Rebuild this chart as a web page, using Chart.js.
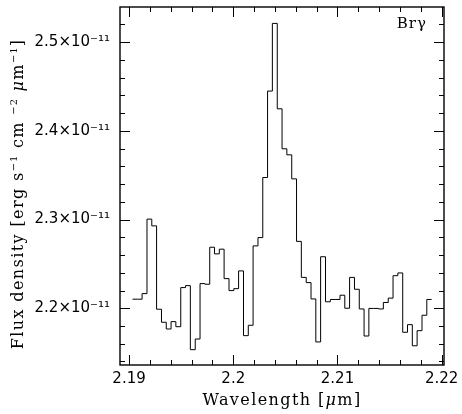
<!DOCTYPE html>
<html>
<head>
<meta charset="utf-8">
<script src="https://cdn.jsdelivr.net/npm/chart.js@4/dist/chart.umd.min.js"></script>
<style>
html,body{margin:0;padding:0;background:#fff;}
canvas{display:block;}
</style>
</head>
<body>
<canvas id="c" width="462" height="414"></canvas>
<script>
// Bin left edges (µm); the last entry is the right edge of the last bin
const wavelengthEdges = [
  2.19033, 2.19079, 2.19125, 2.19172, 2.19218, 2.19264, 2.19311, 2.19357, 2.19403, 2.19449,
  2.19496, 2.19542, 2.19588, 2.19635, 2.19681, 2.19727, 2.19774, 2.19820, 2.19866, 2.19912,
  2.19959, 2.20005, 2.20051, 2.20098, 2.20144, 2.20190, 2.20237, 2.20283, 2.20329, 2.20375,
  2.20422, 2.20468, 2.20514, 2.20561, 2.20607, 2.20653, 2.20700, 2.20746, 2.20792, 2.20838,
  2.20885, 2.20931, 2.20977, 2.21024, 2.21070, 2.21116, 2.21163, 2.21209, 2.21255, 2.21301,
  2.21348, 2.21394, 2.21440, 2.21487, 2.21533, 2.21579, 2.21626, 2.21672, 2.21718, 2.21764,
  2.21811, 2.21857, 2.21903
];
// Flux density in units of 1e-11 erg s^-1 cm^-2 µm^-1 (one per bin)
const fluxE11 = [
  2.2102, 2.2102, 2.2165, 2.3005, 2.2929, 2.1989, 2.1842, 2.1766, 2.1849, 2.1792,
  2.2233, 2.2255, 2.1533, 2.1653, 2.2278, 2.2271, 2.2688, 2.2613, 2.2666, 2.2334,
  2.2199, 2.2221, 2.2421, 2.1691, 2.1808, 2.2703, 2.2797, 2.3474, 2.4449, 2.5212,
  2.4249, 2.3798, 2.3730, 2.3459, 2.2754, 2.2348, 2.2289, 2.2105, 2.1620, 2.2581,
  2.2073, 2.2099, 2.2099, 2.2147, 2.2000, 2.2348, 2.2214, 2.1992, 2.1687, 2.1998,
  2.1998, 2.1992, 2.2065, 2.2114, 2.2367, 2.2398, 2.1729, 2.1815, 2.1577, 2.1747,
  2.1921, 2.2099
];
const xTickValues = [2.19, 2.20, 2.21, 2.22];
const xTickLabels = ['2.19', '2.2', '2.21', '2.22'];
const yTickValues = [2.2, 2.3, 2.4, 2.5];
const yTickLabels = ['2.2×10⁻¹¹', '2.3×10⁻¹¹', '2.4×10⁻¹¹', '2.5×10⁻¹¹'];
const xMinorStep = 0.002;
const yMinorStep = 0.02;
const lineLabel = 'Brγ';
// axis titles as rich-text pieces: [text, style] (n = normal, s = superscript, i = italic)
const xTitle = [['Wavelength [', 'n'], ['μ', 'i'], ['m]', 'n']];
const yTitle = [['Flux density [erg s', 'n'], ['−1', 's'], [' cm ', 'n'], ['−2', 's'], [' ', 'n'],
                ['μ', 'i'], ['m', 'n'], ['−1', 's'], [']', 'n']];

const points = wavelengthEdges.map((w, i) => ({
  x: w,
  y: fluxE11[Math.min(i, fluxE11.length - 1)]
}));

const FONTS = {
  n: { font: '16px "DejaVu Serif"', ls: '1.4px', dy: 0 },
  i: { font: 'italic 16px "DejaVu Serif"', ls: '1.4px', dy: 0 },
  s: { font: '10px "DejaVu Serif"', ls: '1px', dy: -6 }
};

function drawRich(ctx, pieces, cx, baseY, rotation) {
  ctx.save();
  ctx.translate(cx, baseY);
  ctx.rotate(rotation);
  ctx.textBaseline = 'alphabetic';
  ctx.textAlign = 'left';
  let total = 0;
  const widths = pieces.map(([t, s]) => {
    ctx.font = FONTS[s].font; ctx.letterSpacing = FONTS[s].ls;
    const w = ctx.measureText(t).width; total += w; return w;
  });
  let x = -total / 2;
  pieces.forEach(([t, s], k) => {
    ctx.font = FONTS[s].font; ctx.letterSpacing = FONTS[s].ls;
    ctx.fillText(t, x, FONTS[s].dy);
    x += widths[k];
  });
  ctx.restore();
}

const framePlugin = {
  id: 'frame',
  afterDraw(chart) {
    const ctx = chart.ctx;
    const a = chart.chartArea;
    const xs = chart.scales.x, ys = chart.scales.y;
    ctx.save();
    ctx.strokeStyle = '#000';
    ctx.lineWidth = 1.4;
    ctx.strokeRect(a.left, a.top, a.right - a.left, a.bottom - a.top);
    ctx.lineWidth = 1;
    ctx.beginPath();
    const x0 = xTickValues[0] - xMinorStep * 5;
    for (let k = 0; k <= 40; k++) {
      const v = +(x0 + k * xMinorStep).toFixed(4);
      if (v < xs.min || v > xs.max) continue;
      const major = xTickValues.some(t => Math.abs(t - v) < 1e-6);
      const len = major ? 10 : 5;
      const px = Math.round(xs.getPixelForValue(v)) + 0.5;
      ctx.moveTo(px, a.bottom); ctx.lineTo(px, a.bottom - len);
      ctx.moveTo(px, a.top); ctx.lineTo(px, a.top + len);
    }
    const y0 = yTickValues[0] - yMinorStep * 5;
    for (let k = 0; k <= 30; k++) {
      const v = +(y0 + k * yMinorStep).toFixed(4);
      if (v < ys.min || v > ys.max) continue;
      const major = yTickValues.some(t => Math.abs(t - v) < 1e-6);
      const len = major ? 10 : 5;
      const py = Math.round(ys.getPixelForValue(v)) + 0.5;
      ctx.moveTo(a.left, py); ctx.lineTo(a.left + len, py);
      ctx.moveTo(a.right, py); ctx.lineTo(a.right - len, py);
    }
    ctx.stroke();
    ctx.fillStyle = '#000';
    // line label
    ctx.font = '15px "DejaVu Serif"';
    ctx.letterSpacing = '1px';
    ctx.textAlign = 'right';
    ctx.textBaseline = 'middle';
    ctx.fillText(lineLabel, a.right - 17, a.top + 17);
    // axis titles
    drawRich(ctx, xTitle, (a.left + a.right) / 2, a.bottom + 40, 0);
    drawRich(ctx, yTitle, 23, (a.top + a.bottom) / 2 + 8, -Math.PI / 2);
    ctx.restore();
  }
};

new Chart(document.getElementById('c'), {
  type: 'line',
  data: {
    datasets: [{
      data: points,
      stepped: true,
      borderColor: '#000',
      borderWidth: 1,
      pointRadius: 0,
      fill: false,
      tension: 0
    }]
  },
  options: {
    responsive: false,
    animation: false,
    devicePixelRatio: 1,
    layout: { padding: { left: 0, right: 18, top: 7, bottom: 0 } },
    plugins: { legend: { display: false }, tooltip: { enabled: false } },
    scales: {
      x: {
        type: 'linear',
        min: 2.18913,
        max: 2.22022,
        grid: { display: false, drawTicks: false },
        border: { display: false },
        afterFit(s) { s.height = 49; s.paddingLeft = 0; s.paddingRight = 0; },
        afterBuildTicks(s) { s.ticks = xTickValues.map(v => ({ value: v })); },
        ticks: {
          autoSkip: false,
          maxRotation: 0,
          padding: 5,
          color: '#000',
          font: { family: 'DejaVu Sans', size: 15 },
          callback: (v) => xTickLabels[xTickValues.findIndex(t => Math.abs(t - v) < 1e-9)]
        },
        title: { display: false }
      },
      y: {
        type: 'linear',
        min: 2.1360,
        max: 2.5397,
        grid: { display: false, drawTicks: false },
        border: { display: false },
        afterFit(s) { s.width = 120; s.paddingTop = 0; s.paddingBottom = 0; },
        afterBuildTicks(s) { s.ticks = yTickValues.map(v => ({ value: v })); },
        ticks: {
          autoSkip: false,
          padding: 10,
          color: '#000',
          font: { family: 'DejaVu Sans', size: 15 },
          callback: (v) => yTickLabels[yTickValues.findIndex(t => Math.abs(t - v) < 1e-9)]
        },
        title: { display: false }
      }
    }
  },
  plugins: [framePlugin]
});
</script>
</body>
</html>
